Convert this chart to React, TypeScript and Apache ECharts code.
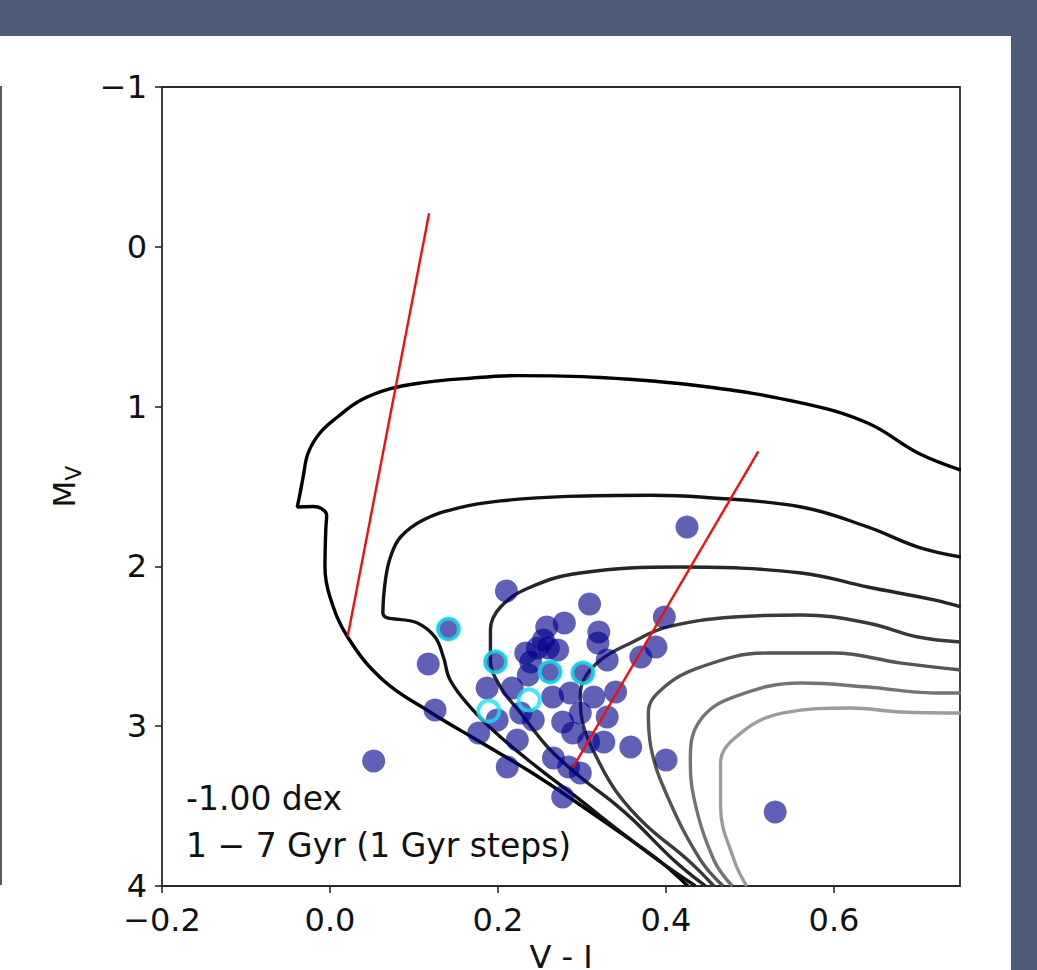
import React, { useEffect, useRef } from 'react';
import * as echarts from 'echarts';

const FONT = 'DejaVu Sans';

const xTicks = [-0.2, 0, 0.2, 0.4, 0.6];
const yTicks = [-1, 0, 1, 2, 3, 4];

// Isochrones 1..7 Gyr, [V-I, M_V]
const iso1 = [[0.426,4.0],[0.394,3.85],[0.358,3.712],[0.298,3.493],[0.239,3.287],[0.179,3.099],[0.119,2.911],[0.063,2.711],[0.021,2.442],[0.000,2.191],[-0.006,2.004],[-0.005,1.77],[-0.004,1.68],[-0.010,1.638],[-0.020,1.625],[-0.039,1.628],[-0.036,1.553],[-0.032,1.441],[-0.026,1.29],[-0.012,1.165],[0.009,1.065],[0.036,0.962],[0.072,0.888],[0.111,0.850],[0.160,0.825],[0.223,0.806],[0.322,0.818],[0.441,0.871],[0.561,0.977],[0.640,1.103],[0.700,1.290],[0.751,1.397]];
const iso2 = [[0.435,4.0],[0.390,3.837],[0.340,3.637],[0.290,3.430],[0.248,3.262],[0.203,3.068],[0.167,2.880],[0.143,2.711],[0.135,2.567],[0.125,2.442],[0.104,2.354],[0.063,2.292],[0.066,2.085],[0.072,1.941],[0.084,1.816],[0.111,1.710],[0.152,1.635],[0.203,1.590],[0.283,1.562],[0.382,1.555],[0.441,1.566],[0.561,1.628],[0.640,1.753],[0.700,1.879],[0.751,1.941]];
const iso3 = [[0.447,4.0],[0.409,3.837],[0.361,3.587],[0.338,3.481],[0.298,3.318],[0.259,3.130],[0.227,2.917],[0.203,2.755],[0.191,2.586],[0.191,2.398],[0.203,2.254],[0.239,2.129],[0.298,2.041],[0.417,2.004],[0.561,2.041],[0.640,2.129],[0.719,2.210],[0.751,2.254]];
const iso4 = [[0.457,4.0],[0.426,3.837],[0.376,3.618],[0.342,3.418],[0.319,3.212],[0.302,3.005],[0.298,2.836],[0.302,2.711],[0.322,2.586],[0.358,2.479],[0.402,2.379],[0.481,2.317],[0.561,2.304],[0.640,2.354],[0.700,2.442],[0.751,2.473]];
const iso5 = [[0.468,4.0],[0.441,3.837],[0.402,3.443],[0.382,3.130],[0.379,2.917],[0.394,2.773],[0.441,2.630],[0.521,2.542],[0.600,2.542],[0.680,2.605],[0.751,2.648]];
const iso6 = [[0.479,4.0],[0.457,3.837],[0.433,3.443],[0.429,3.193],[0.441,2.961],[0.481,2.817],[0.561,2.730],[0.640,2.755],[0.719,2.792],[0.751,2.792]];
const iso7 = [[0.496,4.0],[0.481,3.837],[0.465,3.506],[0.465,3.230],[0.489,3.043],[0.540,2.917],[0.620,2.886],[0.680,2.911],[0.751,2.917]];
const isochrones = [iso1, iso2, iso3, iso4, iso5, iso6, iso7];
const isoColors = ['#000000', '#121212', '#262626', '#3a3a3a', '#555555', '#747474', '#9c9c9c'];

// Stars
const stars = [[0.210,2.154],[0.309,2.235],[0.258,2.379],[0.279,2.354],[0.320,2.410],[0.319,2.479],[0.398,2.317],[0.388,2.504],[0.370,2.567],[0.141,2.392],[0.117,2.611],[0.233,2.542],[0.247,2.511],[0.260,2.511],[0.271,2.523],[0.239,2.598],[0.197,2.598],[0.262,2.661],[0.301,2.667],[0.236,2.680],[0.330,2.586],[0.340,2.786],[0.187,2.761],[0.265,2.817],[0.286,2.792],[0.314,2.817],[0.199,2.961],[0.125,2.899],[0.227,2.917],[0.242,2.961],[0.277,2.974],[0.298,2.917],[0.330,2.942],[0.177,3.043],[0.223,3.086],[0.308,3.099],[0.326,3.099],[0.358,3.130],[0.400,3.212],[0.266,3.199],[0.211,3.255],[0.284,3.255],[0.298,3.293],[0.277,3.443],[0.052,3.218],[0.425,1.753],[0.530,3.537],[0.254,2.461],[0.217,2.761],[0.289,3.043]];
// Highlighted stars (cyan rings)
const highlighted = [[0.141,2.392],[0.197,2.598],[0.262,2.661],[0.301,2.667],[0.237,2.836],[0.189,2.905]];

// Red reference lines
const redLineA = [[0.118,-0.21],[0.021,2.44]];
const redLineB = [[0.510,1.28],[0.289,3.26]];

const annotation1 = '-1.00 dex';
const annotation2 = '1 \u2212 7 Gyr (1 Gyr steps)';

const fmtX = (v: number) => (v < 0 ? '\u2212' : '') + Math.abs(v).toFixed(1);
const fmtY = (v: number) => (v < 0 ? '\u2212' : '') + String(Math.abs(Math.round(v)));

export default function App() {
  const ref = useRef<HTMLDivElement>(null);
  useEffect(() => {
    if (!ref.current) return;
    const chart = echarts.init(ref.current, undefined, { renderer: 'svg' });
    const series: any[] = isochrones.map((d, i) => ({
      type: 'line',
      data: d,
      smooth: 0.4,
      showSymbol: false,
      symbol: 'none',
      lineStyle: { color: isoColors[i], width: 3.4 },
      z: 2,
      silent: true,
    }));
    series.push({
      type: 'scatter',
      data: stars,
      symbolSize: 23,
      itemStyle: { color: 'rgba(0,0,139,0.78)' },
      z: 3,
    });
    series.push({
      type: 'scatter',
      data: highlighted,
      symbolSize: 21,
      itemStyle: { color: 'rgba(0,0,0,0)', borderColor: '#12e4ec', borderWidth: 4 },
      z: 4,
    });
    [redLineA, redLineB].forEach((d) => {
      series.push({
        type: 'line',
        data: d,
        showSymbol: false,
        symbol: 'none',
        lineStyle: { color: '#ee1010', width: 2.4 },
        z: 5,
      });
    });
    chart.setOption({
      animation: false,
      backgroundColor: 'transparent',
      grid: { left: 162, top: 87, width: 798, height: 799, containLabel: false, outerBoundsMode: 'none', show: true, borderColor: '#2a2a2a', borderWidth: 1.8, backgroundColor: 'transparent' },
      xAxis: {
        type: 'value', min: -0.2, max: 0.75, interval: 0.2,
        splitLine: { show: false },
        axisLine: { show: false, onZero: false },
        axisTick: { show: true, inside: false, length: 7, lineStyle: { color: '#2a2a2a', width: 1.6 }, customValues: xTicks },
        axisLabel: { customValues: xTicks, formatter: fmtX, fontFamily: FONT, fontSize: 32, lineHeight: 28, color: '#111', margin: 20 },
        name: 'V - I', nameLocation: 'middle', nameGap: 55,
        nameTextStyle: { fontFamily: FONT, fontSize: 32, lineHeight: 30, color: '#111' },
      },
      yAxis: {
        type: 'value', min: -1, max: 4, interval: 1, inverse: true,
        splitLine: { show: false },
        axisLine: { show: false, onZero: false },
        axisTick: { show: true, inside: false, length: 7, lineStyle: { color: '#2a2a2a', width: 1.6 }, customValues: yTicks },
        axisLabel: { customValues: yTicks, formatter: fmtY, fontFamily: FONT, fontSize: 32, lineHeight: 24, color: '#111', margin: 15, padding: [5, 0, 0, 0] },
        name: '{m|M}{s|V}', nameLocation: 'middle', nameGap: 78, nameRotate: 90,
        nameTextStyle: {
          fontFamily: FONT, color: '#111',
          rich: {
            m: { fontFamily: FONT, fontSize: 31, color: '#111', lineHeight: 40, verticalAlign: 'middle' },
            s: { fontFamily: FONT, fontSize: 22, color: '#111', lineHeight: 20, verticalAlign: 'bottom' },
          },
        },
      },
      graphic: [
        { type: 'line', shape: { x1: 1, y1: 86, x2: 1, y2: 885 }, style: { stroke: '#222', lineWidth: 1.5 } },
        { type: 'text', x: 186, y: 798, style: { text: annotation1, font: `33px "${FONT}"`, fill: '#111', verticalAlign: 'middle', align: 'left' }, z: 10 },
        { type: 'text', x: 186, y: 845, style: { text: annotation2, font: `33px "${FONT}"`, fill: '#111', verticalAlign: 'middle', align: 'left' }, z: 10 },
      ],
      series,
    });
    return () => chart.dispose();
  }, []);
  return (
    <div style={{ position: 'fixed', left: 0, top: 0, width: 1037, height: 970, background: '#4e5b76', overflow: 'hidden' }}>
      <div style={{ position: 'absolute', left: 0, top: 36, width: 1011, height: 934, background: '#ffffff' }} />
      <div ref={ref} style={{ position: 'absolute', left: 0, top: 0, width: 1037, height: 970 }} />
    </div>
  );
}
